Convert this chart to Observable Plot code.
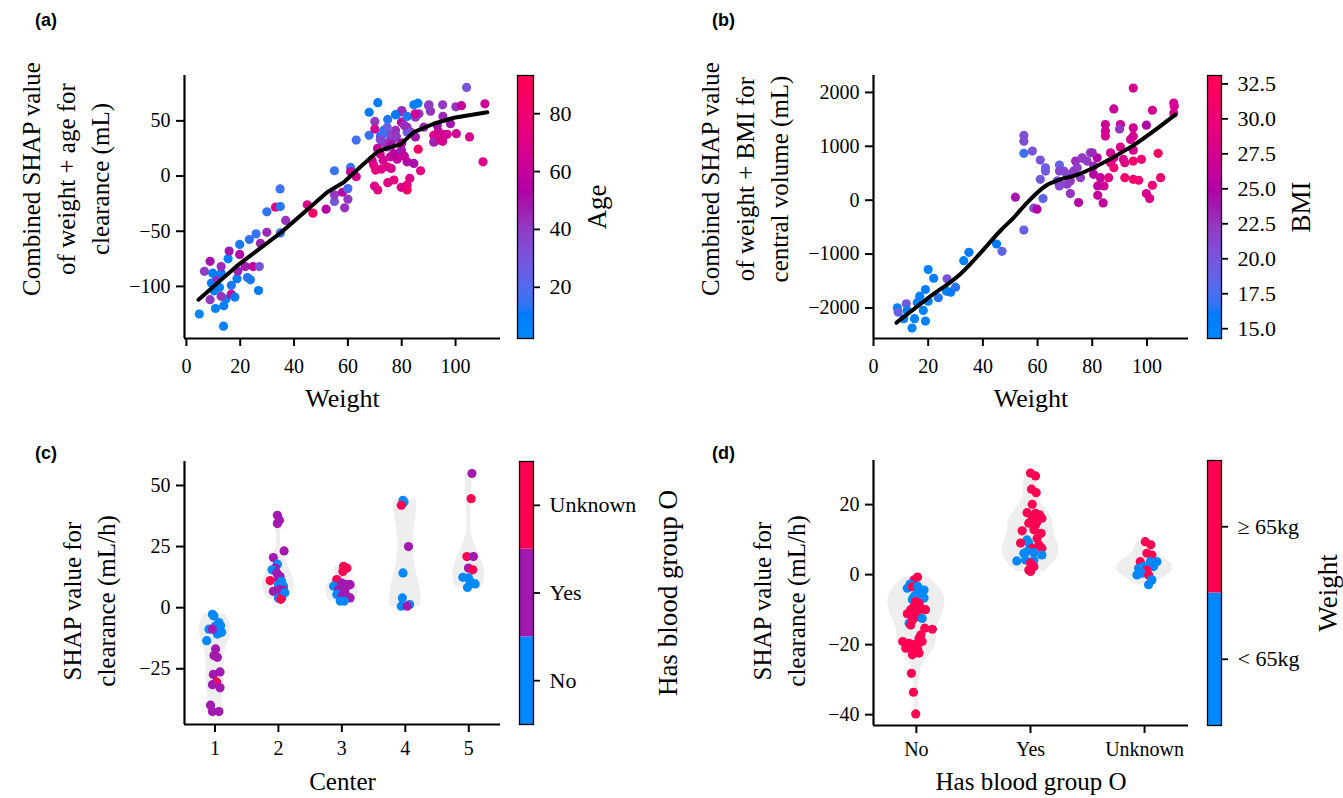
<!DOCTYPE html>
<html><head><meta charset="utf-8">
<script src="https://cdn.jsdelivr.net/npm/d3@7"></script>
<script src="https://cdn.jsdelivr.net/npm/@observablehq/plot@0.6"></script>
<style>
body{margin:0;background:#fff}
#wrap{position:relative;width:1343px;height:798px;overflow:hidden;background:#fff}
.plabel{position:absolute;font-family:"Liberation Sans",Arial,sans-serif;font-weight:bold;font-size:18px;line-height:1}
</style></head><body><div id="wrap"></div>
<script>
// ---------------- DATA ----------------
// Panel (a): [weight, combined SHAP (mL), age]
const aPoints = [[4.8,-125,5],[13.8,-136,7],[10.8,-120,6],[13.9,-117.5,9],[14.7,-111.5,8],[8.8,-112,40],[12.9,-109,42],[16.7,-107,62],[18,-109.7,10],[10.3,-104,9],[12.3,-101,7],[16.7,-99,12],[9.3,-97,10],[11.3,-92.6,45],[18.8,-93,11],[22.7,-92,13],[23.8,-94,12],[26.8,-103.7,10],[6.7,-86.3,38],[9.8,-88,9],[12.9,-88,10],[12.9,-82,44],[8.8,-77.3,50],[15.5,-75,8],[15.9,-68,48],[19.8,-71,52],[19.8,-62,12],[19.1,-86,46],[21.9,-82,47],[24.8,-82,58],[27.1,-82,30],[23.4,-57.5,14],[25.9,-52.4,15],[29.9,-51,45],[27.5,-61,46],[29.9,-32.4,14],[33.1,-28.2,72],[34.9,-27.6,13],[34.8,-11.7,16],[36.9,-40.2,42],[34.9,-51.5,15],[44.9,-26,68],[47,-33.6,85],[51.9,-30,55],[55,-23,28],[55,-17,40],[58,-14.7,55],[58.8,-28.8,42],[60,-21,40],[60,-11.4,18],[55,4.8,15],[61,7.8,14],[61,3.9,62],[63.1,-0.6,66],[63.1,32.6,17],[67.9,36.9,14],[67.9,57.8,10],[71.1,66.5,9],[70,49.5,40],[70,42.6,65],[72.1,36.2,10],[74.8,51.3,12],[78.1,56,10],[80.2,58.2,42],[84.5,64.5,8],[86,66,8],[90.1,64.5,38],[90.7,58.7,42],[95.2,64.5,40],[100.1,62.7,42],[102.2,63.8,60],[104.1,80.3,30],[110.9,65.4,62],[110.2,12.9,70],[105.2,35.4,66],[100.3,38.4,64],[98.1,47.4,48],[96.9,37.8,68],[95.2,31.5,62],[91.9,30.9,50],[91.9,36.9,70],[93.6,40.5,66],[95.3,54,45],[93.2,45.9,48],[88.2,44.3,45],[86.1,24.3,85],[87,4.8,72],[84.5,11.4,50],[82,12.9,52],[83,-2.1,70],[82,-8.1,72],[82,-12.6,85],[79.8,-10.2,70],[77.1,-3.6,74],[74.8,-6,72],[71.1,-12.6,74],[69.9,-9,70],[76.1,6.9,66],[72.4,6.3,70],[69.6,9.9,72],[69,14.4,66],[73.1,14.4,64],[75.8,17.4,62],[78.3,15.3,60],[78.9,20.4,64],[77.1,20.4,56],[79.9,23.4,48],[74.6,26.3,45],[72.7,30.8,40],[75.2,30.8,42],[77.1,33.9,44],[75.8,36.9,38],[77.7,41.4,44],[79.9,48.8,60],[82,44.3,42],[83.3,39.8,40],[85.1,35.4,48],[85.1,53.3,40],[86.4,56.4,42],[82,39.8,28],[73.3,41.4,12],[74.6,44.3,25],[81,45.9,44],[80,59.4,44],[90,63.8,40],[77.7,55.5,10],[82,54,12],[85,56.4,64],[92,30.9,46],[94.4,32.4,66],[95.7,37.5,64],[74.6,8.4,70],[70.3,5.4,75],[73,38,15],[72,33,35],[76,28,50],[78,36,40],[80,30,55],[81,18,60],[71,25,60],[72,20,65]];
const aLine = [[4.5,-112],[19.5,-80],[35,-51.5],[44.9,-30.6],[52.3,-14.7],[58.5,-5.7],[64.7,8.4],[70.9,21.9],[74,24.9],[79.6,28.8],[84.5,39.8],[91.9,47.4],[99.4,52.8],[111.8,57.8]];
const aXTicks = [0,20,40,60,80,100];
const aYTicks = [-100,-50,0,50];
const ageTicks = [20,40,60,80];

// Panel (b): [weight, combined SHAP (mL), BMI]
const bPoints = [[8.7,-1996,15],[9,-2077,19],[12,-1922,19.5],[11.1,-2199,15],[14.1,-2373,14.8],[15,-2199,15],[12.3,-2046,15.5],[16,-1903,15.2],[16.9,-1781,15.5],[19,-1658,15.5],[20,-1874,15.3],[18.2,-2046,15],[19,-2243,15],[20,-1288,15.2],[22,-1449,15.4],[23.7,-1811,16.5],[26.9,-1460,20],[26.7,-1689,15.5],[28.2,-1708,15.8],[30,-1615,16.5],[33,-1122,15.5],[34.9,-968,15.8],[45,-813,16],[47,-950,18.5],[55,-554,19],[51.9,55,24],[58.6,-148,20],[59.8,-166,25],[62,30,18.5],[55,1201,20.5],[55,1096,20.5],[55,869,17],[58.1,911,20],[61,745,20],[62.9,602,19.5],[62.9,541,19.5],[61,388,19.5],[68,652,19],[68,541,21],[69.6,541,21],[68,264,21],[70.8,296,22],[72,122,22.5],[75,-44,25],[73.9,726,23],[76.3,776,22],[79.3,880,21],[78.1,726,22],[74.5,602,21.5],[80.5,480,25],[83,418,26],[82,264,26],[84.3,264,26.5],[82,92,26],[84,-50,26],[86,418,29],[84.8,1404,27],[84.8,1281,27],[84.8,1189,27.5],[87.9,1693,26],[90.3,1404,27],[90,1323,22.5],[95,2081,27],[95,1342,27],[95,1188,27.5],[94,1127,27],[95,929,27.5],[90.3,985,28],[91.9,695,29],[95,726,31],[98,758,30],[91.9,418,31],[95,388,31],[97,370,30.5],[99.8,122,28],[101,30,28],[102,277,30],[104.1,869,32],[105,418,30.5],[102,1669,27],[99.8,1392,24.5],[109.8,1804,27],[110,1743,27.5],[109.8,1619,27.5],[86.7,695,29],[87.9,603,30],[80.5,634,23],[81.8,787,25],[73.2,541,22],[75.7,418,22],[70.8,480,21],[72,357,22],[67.2,357,20.5],[68.4,296,21],[86.7,880,27],[87.9,787,28],[91.4,757,28],[80,880,23],[76.3,787,22]];
const bLine = [[8.4,-2273],[19.6,-1830],[31.8,-1368],[46.4,-567],[51.3,-322],[56.2,-44],[62.9,264],[68.4,388],[73.2,449],[80.5,603],[94.6,1004],[110.4,1589]];
const bXTicks = [0,20,40,60,80,100];
const bYTicks = [-2000,-1000,0,1000,2000];
const bmiTicks = [15,17.5,20,22.5,25,27.5,30,32.5];

// Panel (c): [center, jitter, SHAP (mL/h), blood group O index]
const cGroups = ["No","Yes","Unknown"];
const cCenters = [1,2,3,4,5];
const cPoints = [[1,-0.04,-2.7,0],[1,-0.016,-3.4,0],[1,-0.094,-8.8,0],[1,0.01,-7.4,0],[1,0.09,-7.4,0],[1,0.105,-10.1,0],[1,0.037,-10.8,0],[1,0.063,-6.1,0],[1,-0.04,-8.8,1],[1,-0.13,-13.5,0],[1,0.01,-16.9,1],[1,-0.016,-19.6,1],[1,0.037,-20.3,1],[1,-0.026,-27.3,1],[1,0.08,-26.3,1],[1,0.026,-30.4,2],[1,-0.04,-31.5,1],[1,0.08,-32.8,1],[1,-0.07,-39.9,1],[1,-0.04,-42.5,1],[1,0.063,-42.5,1],
[2,-0.016,37.8,1],[2,0.016,35.8,1],[2,-0.016,34.4,1],[2,0.09,23.2,1],[2,-0.08,20.5,1],[2,-0.016,17.8,0],[2,-0.05,16.2,1],[2,-0.1,15.5,0],[2,-0.026,14.2,1],[2,0.026,12.8,1],[2,0,11.5,1],[2,-0.13,11.1,2],[2,0.05,10.8,0],[2,0,9.4,0],[2,0.08,8.8,0],[2,-0.08,6.7,1],[2,0.016,7.4,1],[2,0.08,7.1,1],[2,0,4,0],[2,0.05,4,2],[2,0.1,6.1,0],[2,0.037,3.4,2],
[3,0.026,16.9,2],[3,0.08,16.2,2],[3,0.016,14.8,2],[3,-0.08,11.5,2],[3,-0.13,8.8,0],[3,0,10.1,1],[3,0.08,9.4,1],[3,0.13,9.4,1],[3,-0.05,7.4,1],[3,0.05,7.4,1],[3,-0.08,5.4,0],[3,0,4.7,1],[3,0.08,4.7,1],[3,0.13,4,1],[3,-0.026,2.7,0],[3,0.037,2.7,0],
[4,-0.037,43.9,0],[4,-0.02,43.2,0],[4,-0.063,41.9,2],[4,0.05,25,1],[4,-0.037,14.2,0],[4,-0.047,4,0],[4,0.068,1.3,0],[4,-0.063,0.6,0],[4,0.03,0.6,1],
[5,0.05,54.9,1],[5,0.037,44.6,2],[5,-0.03,20.9,2],[5,0.073,20.9,1],[5,-0.005,16.2,1],[5,0.063,15.5,2],[5,-0.094,12.4,0],[5,-0.005,12.2,0],[5,0.1,9.7,0],[5,-0.02,8.3,0],[5,0.02,10.8,0]];
const cYTicks = [-25,0,25,50];

// Panel (d): [blood group O index, jitter, SHAP (mL/h), weight class index]
const dGroups = ["No","Yes","Unknown"];
const dWeightClasses = ["< 65kg","≥ 65kg"];
const dPoints = [[0,0.01,-0.7,1],[0,-0.02,-1.5,1],[0,-0.055,-2.7,0],[0,-0.08,-3.9,0],[0,-0.035,-3.5,1],[0,0.01,-3.3,0],[0,0.04,-4.4,0],[0,0.067,-4.4,0],[0,0.01,-5.4,0],[0,0.05,-5.8,0],[0,-0.02,-6.2,0],[0,0.04,-6.7,0],[0,-0.035,-7.1,0],[0,0.067,-6.7,0],[0,-0.006,-7.7,1],[0,0.023,-8.2,1],[0,-0.02,-9.1,1],[0,0.04,-9.6,1],[0,-0.05,-10,1],[0,0.01,-10.5,1],[0,0.08,-10,1],[0,-0.08,-11.2,1],[0,-0.02,-11.5,1],[0,0.023,-12,1],[0,0.05,-12.5,0],[0,-0.064,-13.9,0],[0,-0.05,-14.4,1],[0,-0.035,-13,1],[0,0.073,-15.3,1],[0,0.14,-15.6,1],[0,0.04,-17.2,1],[0,0.023,-18.2,1],[0,0.05,-19.1,1],[0,-0.12,-19.1,1],[0,-0.093,-21,1],[0,-0.064,-19.6,1],[0,-0.02,-20,1],[0,-0.035,-21.4,1],[0,0.023,-22.4,1],[0,0.01,-21,1],[0,-0.035,-22.9,1],[0,-0.044,-28.2,1],[0,-0.026,-33.6,1],[0,-0.006,-39.8,1],
[1,0,29,1],[1,0.044,28.2,1],[1,0.009,24.4,1],[1,0.05,23.4,1],[1,0.015,20.1,1],[1,-0.03,17.7,1],[1,0.044,17.5,1],[1,0.08,17.1,1],[1,0.1,16.1,1],[1,0.015,16.1,1],[1,-0.015,14.7,1],[1,0.044,14.2,1],[1,0.058,15.1,1],[1,-0.073,12.5,1],[1,0.03,12.8,1],[1,0.093,11.8,1],[1,-0.03,9.9,0],[1,-0.015,9,0],[1,0.058,10.4,1],[1,0.073,8.5,1],[1,-0.087,9,1],[1,0.015,7.5,1],[1,0.1,7.5,1],[1,-0.058,6.1,0],[1,-0.03,6.6,0],[1,0.03,6.3,0],[1,0.1,5.6,0],[1,-0.12,3.9,0],[1,-0.044,4.2,0],[1,0.03,4.2,0],[1,0,3.3,1],[1,0.03,2.3,1],[1,-0.015,1.3,1],[1,0,0.9,1],
[2,0.006,9.4,1],[2,0.055,8.5,1],[2,0.02,6.1,1],[2,0.064,5.6,1],[2,-0.038,3.7,1],[2,0.05,3.7,0],[2,0.108,3.7,0],[2,-0.052,1.8,0],[2,-0.009,2.3,0],[2,0.079,2.3,0],[2,0.02,1.3,1],[2,-0.067,-0.1,0],[2,-0.023,0.4,0],[2,0.035,-0.1,1],[2,0.064,-1.5,0],[2,0.035,-2.9,0]];
const dYTicks = [-40,-20,0,20];

// ---------------- STYLE / HELPERS ----------------
const W = 1343, H = 798;
const SERIF = '"Liberation Serif","Times New Roman",serif';
const ageDomain = [2.3, 93.2];
const bmiDomain = [14.3, 33.1];
function shapInterp(t){
  const L = t < 0.5 ? 54 - 28*t : 40 + 28*(t-0.5);
  const C = 70 + 20*t;
  const h = (266.93 + t*(380.32-266.93)) % 360;
  return d3.hcl(h, C, L).formatHex();
}
const BLUE = shapInterp(0), PURPLE = shapInterp(0.5), RED = shapInterp(1);
const cColors = [BLUE, PURPLE, RED];
const dColors = [BLUE, RED];
const fmtNum = d => (d < 0 ? "\u2212" : "") + Math.abs(d);
const wrap = document.getElementById("wrap");
const TICK_FS = 20, CB_FS = 22, XLAB_FS = 26, YLAB_FS = 25, CBLAB_FS = 27;

function mk(l, t, r, b, opts){
  const svg = Plot.plot(Object.assign({
    width: W, height: H,
    marginLeft: l, marginTop: t, marginRight: W - r, marginBottom: H - b,
    style: {position:"absolute", left:"0px", top:"0px", overflow:"visible", background:"transparent", fontFamily: SERIF, fontSize: TICK_FS + "px", color:"#000"}
  }, opts));
  wrap.appendChild(svg);
  return svg;
}
function spines(xd, yd){
  return [Plot.ruleX([xd[0]], {stroke:"#000", strokeWidth:2.2}), Plot.ruleY([yd[0]], {stroke:"#000", strokeWidth:2.2})];
}
function axX(ticks, fmt, pad){ return Plot.axisX({ticks, tickSize:8, tickPadding:pad, strokeWidth:2, label:null, tickFormat: fmt || fmtNum, fontFamily:SERIF, fontSize:TICK_FS}); }
function axY(ticks, fmt){ return Plot.axisY({ticks, tickSize:8, tickPadding:6, strokeWidth:2, label:null, tickFormat: fmt || fmtNum, fontFamily:SERIF, fontSize:TICK_FS}); }
function cbAxis(ticks, fmt){ return Plot.axisY({anchor:"right", ticks, tickSize:6, tickPadding:10, strokeWidth:1.8, label:null, tickFormat: fmt, fontFamily:SERIF, fontSize:CB_FS}); }
function yLabel(txt, dx, dy, lh){ return Plot.text([txt], {text:d=>d, frameAnchor:"left", dx, dy, rotate:-90, fontSize:YLAB_FS, fontFamily:SERIF, lineHeight:lh, lineAnchor:"middle", textAnchor:"middle"}); }
function xLabel(txt, dy, fs){ return Plot.text([txt], {text:d=>d, frameAnchor:"bottom", dy, fontSize:fs || XLAB_FS, fontFamily:SERIF, lineAnchor:"middle", textAnchor:"middle"}); }
function cbLabel(txt, dx){ return Plot.text([txt], {text:d=>d, frameAnchor:"right", dx, rotate:-90, fontSize:CBLAB_FS, fontFamily:SERIF, lineAnchor:"middle", textAnchor:"middle"}); }
function gradSteps(dom, n=240){ return d3.range(n).map(i => [dom[0] + (dom[1]-dom[0])*i/n, dom[0] + (dom[1]-dom[0])*(i+1.6)/n]); }
function violinRows(rows, catIdx, yIdx, halfW, bwScale){
  const out = [];
  for (const [c, grp] of d3.group(rows, r => r[catIdx])) {
    const ys = grp.map(r => r[yIdx]);
    const h = bwScale * d3.deviation(ys) * Math.pow(ys.length, -0.2);
    const lo = d3.min(ys), hi = d3.max(ys), n = 100;
    const dens = d3.range(n+1).map(i => { const y = lo + (hi-lo)*i/n; return [y, d3.sum(ys, v => Math.exp(-0.5*((y-v)/h)**2))]; });
    const mx = d3.max(dens, d => d[1]);
    for (const [y, v] of dens) out.push({c, y, x1: c - halfW*v/mx, x2: c + halfW*v/mx});
  }
  return out;
}
function label(txt, x, y){ const d = document.createElement("div"); d.className = "plabel"; d.textContent = txt; d.style.left = x+"px"; d.style.top = y+"px"; wrap.appendChild(d); }

// ---------------- PANEL (a) ----------------
{
  const xd = [-0.7, 116.7], yd = [-147.2, 91.1];
  mk(184, 75, 500, 338, {
    x:{domain:xd}, y:{domain:yd},
    color:{type:"linear", domain:ageDomain, interpolate:shapInterp},
    marks:[
      Plot.dot(aPoints, {x:d=>d[0], y:d=>d[1], fill:d=>d[2], r:4.6}),
      Plot.line(aLine, {x:d=>d[0], y:d=>d[1], stroke:"#000", strokeWidth:4}),
      ...spines(xd, yd), axX(aXTicks, null, 12), axY(aYTicks),
      yLabel("Combined SHAP value\nof weight + age for\nclearance (mL)", -121, -28, 1.38),
      xLabel("Weight", 60)
    ]
  });
  mk(517, 75, 533, 338, {
    x:{domain:[0,1], axis:null}, y:{domain:ageDomain, axis:null},
    color:{type:"linear", domain:ageDomain, interpolate:shapInterp},
    marks:[
      Plot.rect(gradSteps(ageDomain), {x1:()=>0, x2:()=>1, y1:d=>d[0], y2:d=>Math.min(d[1], ageDomain[1]), fill:d=>d[0], shapeRendering:"crispEdges"}),
      Plot.frame({stroke:"#000", strokeWidth:1.3}),
      cbAxis(ageTicks, d=>String(d)),
      cbLabel("Age", 64)
    ]
  });
  label("(a)", 35, 11);
}
// ---------------- PANEL (b) ----------------
{
  const xd = [0, 115.2], yd = [-2567, 2314];
  mk(873, 75, 1188, 338, {
    x:{domain:xd}, y:{domain:yd},
    color:{type:"linear", domain:bmiDomain, interpolate:shapInterp},
    marks:[
      Plot.dot(bPoints, {x:d=>d[0], y:d=>d[1], fill:d=>d[2], r:4.6}),
      Plot.line(bLine, {x:d=>d[0], y:d=>d[1], stroke:"#000", strokeWidth:4, curve:"catmull-rom"}),
      ...spines(xd, yd), axX(bXTicks, null, 12), axY(bYTicks),
      yLabel("Combined SHAP value\nof weight + BMI for\ncentral volume (mL)", -131, -28, 1.38),
      xLabel("Weight", 60)
    ]
  });
  mk(1207, 75, 1221, 338, {
    x:{domain:[0,1], axis:null}, y:{domain:bmiDomain, axis:null},
    color:{type:"linear", domain:bmiDomain, interpolate:shapInterp},
    marks:[
      Plot.rect(gradSteps(bmiDomain), {x1:()=>0, x2:()=>1, y1:d=>d[0], y2:d=>Math.min(d[1], bmiDomain[1]), fill:d=>d[0], shapeRendering:"crispEdges"}),
      Plot.frame({stroke:"#000", strokeWidth:1.3}),
      cbAxis(bmiTicks, d3.format(".1f")),
      cbLabel("BMI", 80)
    ]
  });
  label("(b)", 712, 11);
}
// ---------------- PANEL (c) ----------------
{
  const xd = [0.52, 5.5], yd = [-47.8, 59.8];
  mk(184, 461, 500, 724, {
    x:{domain:xd}, y:{domain:yd},
    marks:[
      Plot.areaX(violinRows(cPoints, 0, 2, 0.25, 0.75), {y:"y", x1:"x1", x2:"x2", z:"c", fill:"#eeeeee"}),
      Plot.dot(cPoints, {x:d=>d[0]+d[1], y:d=>d[2], fill:d=>cColors[d[3]], r:4.6}),
      ...spines(xd, yd), axX(cCenters, d=>String(d), 8), axY(cYTicks),
      yLabel("SHAP value for\nclearance (mL/h)", -97, 8, 1.34),
      xLabel("Center", 57, 25)
    ]
  });
  mk(519, 461, 533, 724, {
    x:{domain:[0,1], axis:null}, y:{domain:[0,3], axis:null},
    marks:[
      Plot.rect([0,1,2], {x1:()=>0, x2:()=>1, y1:d=>d, y2:d=>d+1, fill:d=>cColors[d]}),
      Plot.frame({stroke:"#000", strokeWidth:1.3}),
      cbAxis([0.5,1.5,2.5], d=>cGroups[Math.floor(d)]),
      cbLabel("Has blood group O", 135)
    ]
  });
  label("(c)", 35, 444);
}
// ---------------- PANEL (d) ----------------
{
  const xd = [-0.376, 2.385], yd = [-43.1, 32.6];
  mk(873, 460, 1188, 725, {
    x:{domain:xd}, y:{domain:yd},
    marks:[
      Plot.areaX(violinRows(dPoints, 0, 2, 0.25, 0.75), {y:"y", x1:"x1", x2:"x2", z:"c", fill:"#eeeeee"}),
      Plot.dot(dPoints, {x:d=>d[0]+d[1], y:d=>d[2], fill:d=>dColors[d[3]], r:4.6}),
      ...spines(xd, yd), axX([0,1,2], d=>dGroups[d], 8), axY(dYTicks),
      yLabel("SHAP value for\nclearance (mL/h)", -96, 8, 1.34),
      xLabel("Has blood group O", 56, 25)
    ]
  });
  mk(1207, 460, 1221, 725, {
    x:{domain:[0,1], axis:null}, y:{domain:[0,2], axis:null},
    marks:[
      Plot.rect([0,1], {x1:()=>0, x2:()=>1, y1:d=>d, y2:d=>d+1, fill:d=>dColors[d]}),
      Plot.frame({stroke:"#000", strokeWidth:1.3}),
      cbAxis([0.5,1.5], d=>dWeightClasses[Math.floor(d)]),
      cbLabel("Weight", 107)
    ]
  });
  label("(d)", 712, 444);
}
</script></body></html>
